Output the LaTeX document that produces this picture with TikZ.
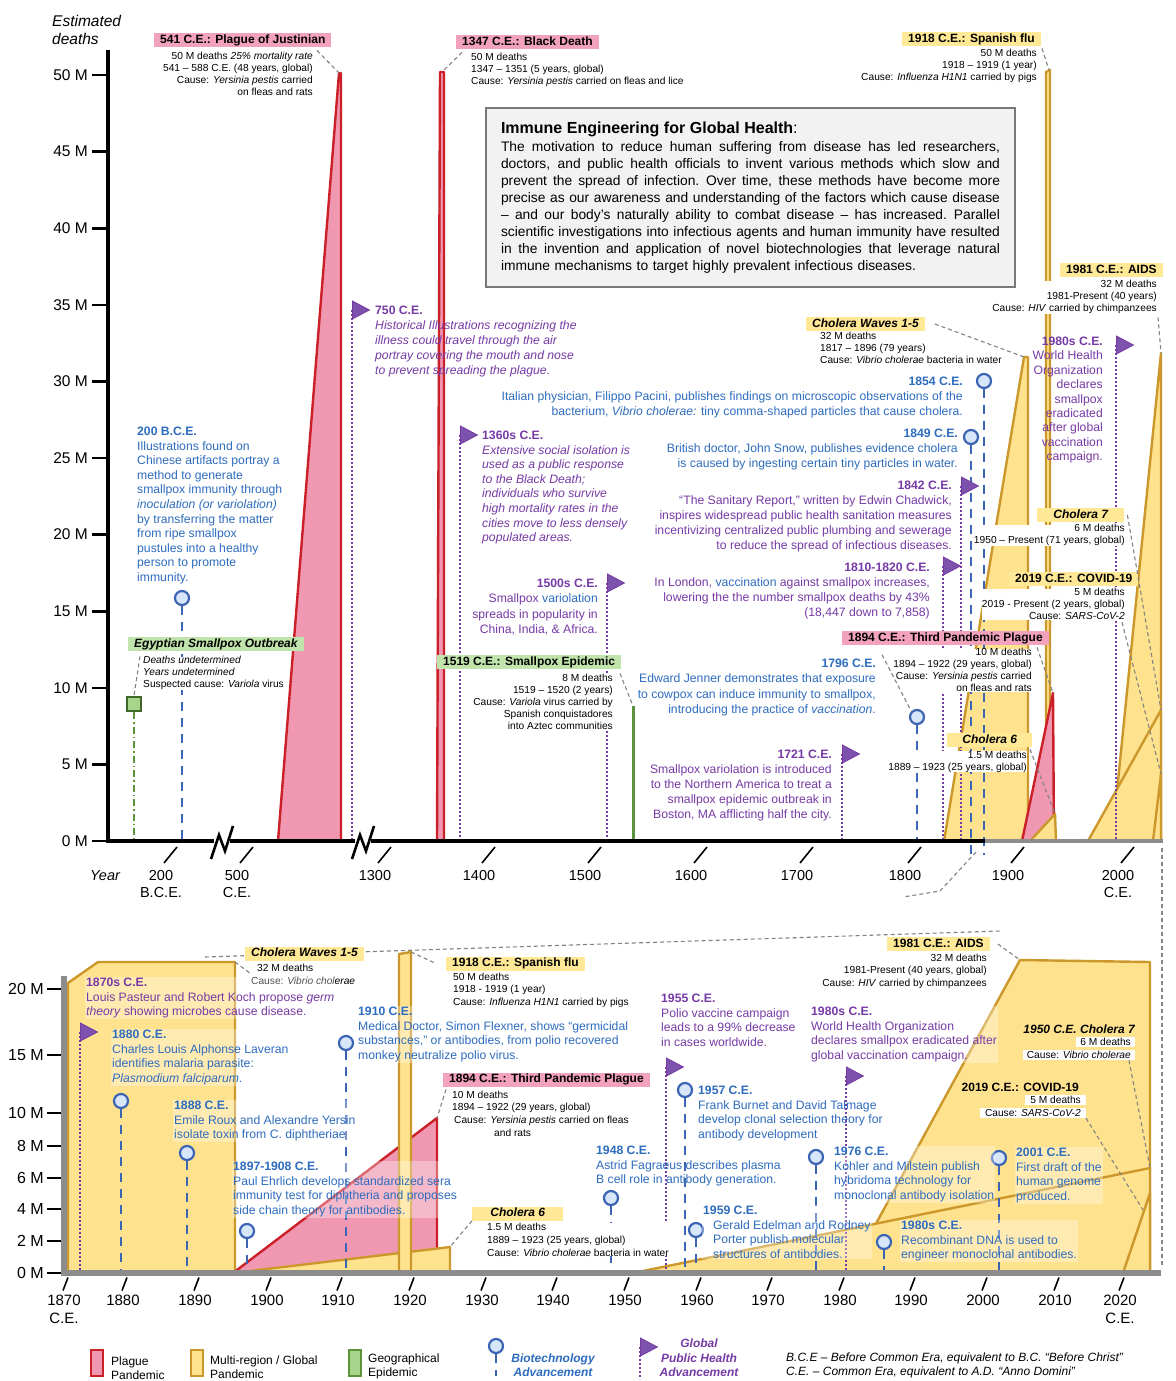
\documentclass[tikz,border=0pt]{standalone}
\usepackage{fontspec}
\setmainfont{Liberation Sans}
\usepackage{xcolor}
\usetikzlibrary{shapes.geometric}

\definecolor{plaguered}{RGB}{204,32,40}
\definecolor{plaguefill}{RGB}{240,152,178}
\definecolor{plaguetagbg}{RGB}{242,162,188}
\definecolor{globalgold}{RGB}{204,152,44}
\definecolor{globalfill}{RGB}{255,226,142}
\definecolor{globaltagbg}{RGB}{255,232,150}
\definecolor{epigreen}{RGB}{92,148,60}
\definecolor{epidark}{RGB}{62,104,42}
\definecolor{epifill}{RGB}{168,212,140}
\definecolor{epitagbg}{RGB}{192,228,172}
\definecolor{bioblue}{RGB}{46,108,190}
\definecolor{pinblue}{RGB}{60,100,180}
\definecolor{pinfill}{RGB}{215,230,248}
\definecolor{pubpurple}{RGB}{118,58,165}
\definecolor{flagpurple}{RGB}{125,82,172}
\definecolor{leadgray}{RGB}{130,130,130}
\definecolor{boxgray}{RGB}{242,242,242}
\definecolor{boxborder}{RGB}{120,120,120}
\definecolor{axisgray}{RGB}{140,140,140}

% one justified line of the summary box
\newcommand{\boxline}[1]{\hbox to 499pt{\spaceskip=0.278em plus 1fil minus 0.1em #1}}

\begin{document}
\begin{tikzpicture}[x=1pt, y=-1pt,
  note/.style={font=\fontsize{10.2}{12}\selectfont, inner sep=0pt, fill=white, align=left},
  tag/.style={font=\bfseries\fontsize{12}{13}\selectfont, inner xsep=6pt, inner ysep=1.3pt, text height=8.8pt, text depth=2.6pt, anchor=west},
  plaguetag/.style={tag, fill=plaguetagbg},
  globaltag/.style={tag, fill=globaltagbg},
  epitag/.style={tag, fill=epitagbg},
  biotxt/.style={font=\fontsize{12.2}{14.6}\selectfont, text=bioblue, inner sep=0pt, align=left},
  pubtxt/.style={font=\fontsize{12.2}{14.6}\selectfont, text=pubpurple, inner sep=0pt, align=left},
  halo/.style={fill=white, fill opacity=0.32, text opacity=1, inner sep=1pt},
  biopin/.style={circle, draw=pinblue, fill=pinfill, line width=2.2pt, minimum size=14pt, inner sep=0pt},
  bioline/.style={draw=pinblue, line width=2.6pt, dash pattern=on 9pt off 7pt},
  pubflag/.style={isosceles triangle, isosceles triangle stretches, minimum width=18pt, minimum height=17pt, inner sep=0pt, fill=flagpurple, draw=pubpurple, line width=0.8pt, anchor=west},
  publine/.style={draw=pubpurple, line width=2.6pt, dash pattern=on 2pt off 2pt},
  epimark/.style={rectangle, draw=epidark, fill=epifill, line width=2.4pt, minimum size=14pt, inner sep=0pt},
  leader/.style={draw=leadgray, line width=1.1pt, dash pattern=on 4pt off 3pt},
  plaguearea/.style={draw=plaguered, line width=2.4pt, fill=plaguefill, line join=round},
  globalarea/.style={draw=globalgold, line width=2.4pt, fill=globalfill, line join=round},
  epibar/.style={draw=epigreen, line width=3pt},
  epiline/.style={draw=epigreen, line width=2.2pt, dash pattern=on 7pt off 3pt on 1.5pt off 3pt},
  ylab/.style={font=\fontsize{15.5}{16}\selectfont, anchor=east, inner sep=0pt},
  yearlab/.style={font=\fontsize{14.5}{17}\selectfont, align=center, anchor=north, inner sep=0pt},
  axisline/.style={line width=4pt},
  ytick/.style={line width=2.6pt},
  xtick/.style={line width=1.6pt},
  introbox/.style={draw=boxborder, fill=boxgray, line width=2pt, minimum width=529pt, minimum height=179pt, inner xsep=14pt, text width=499pt, align=left, font=\fontsize{13.8}{17}\selectfont},
  swatch/.style={rectangle, line width=2.5pt, minimum width=12pt, minimum height=26pt, inner sep=0pt},
  legtxt/.style={font=\fontsize{12}{14}\selectfont, inner sep=0pt, align=left, anchor=west},
]

\useasboundingbox (0,0) rectangle (1175,1381);
\fill[white] (0,0) rectangle (1175,1381);

\coordinate (topaxis) at (0,841);
\coordinate (lowaxis) at (0,1273);
\coordinate (ytaxis) at (108,0);
\coordinate (ybaxis) at (61,0);

%% ===== upper chart: outbreaks
\coordinate (pk541) at (339,73);
\draw[plaguearea] (278,841) -- (pk541) -- (341,73) -- (341,841) -- cycle;
\coordinate (pk1347) at (442,72);
\draw[plaguearea] (437,841) -- (440,72) -- (444,72) -- (444,841) -- cycle;
\coordinate (pk1519) at (633,706);
\draw[epibar] (pk1519) -- (pk1519 |- topaxis);
\coordinate (pkwaves) at (1024,357);
\draw[globalarea] (944,841) -- (pkwaves) -- (1028,357) -- (1028,841) -- cycle;
\coordinate (pkflu) at (1049,70);
\draw[globalarea] (1046,841) -- (1046,72) -- (1050,70) -- (1050,841) -- cycle;
\coordinate (pkaids) at (1161,353);
\draw[globalarea] (1112,841) -- (pkaids) -- (1161,841) -- cycle;
\coordinate (pkchol7) at (1161,710);
\draw[globalarea] (1088,841) -- (pkchol7) -- (1161,841) -- cycle;
\coordinate (pkcovid) at (1161,774);
\draw[globalarea] (1153,841) -- (pkcovid) -- (1161,841) -- cycle;
\coordinate (pk1894) at (1053,693);
\draw[plaguearea] (1022,841) -- (pk1894) -- (1054,841) -- cycle;
\coordinate (pkchol6) at (1055,814);
\draw[globalarea] (1030,841) -- (pkchol6) -- (1056,841) -- cycle;

%% upper chart: markers
\node[epimark] (eso) at (134,704) {};
\draw[epiline] (eso.south) -- (eso.south |- topaxis);

\node[biopin] (p200) at (182,598) {};
\node[biopin] (p1854) at (984,381) {};
\node[biopin] (p1849) at (971,437) {};
\node[biopin] (p1796) at (917,717) {};
\draw[bioline] (p200.south) -- (p200.south |- topaxis);
\draw[bioline] (p1854.south) -- ([yshift=-14pt]p1854.south |- topaxis);
\draw[bioline] (p1849.south) -- ([yshift=-14pt]p1849.south |- topaxis);
\draw[bioline] (p1796.south) -- (p1796.south |- topaxis);

\node[pubflag] (f750) at (352,310) {};
\node[pubflag] (f1360) at (460,435) {};
\node[pubflag] (f1500) at (607,583) {};
\node[pubflag] (f1721) at (842,754) {};
\node[pubflag] (f1810) at (943,566) {};
\node[pubflag] (f1842) at (961,486) {};
\node[pubflag] (f1980t) at (1116,345) {};
\foreach \f in {f750,f1360,f1500,f1721,f1810,f1842,f1980t}
  \draw[publine] (\f.west) -- (\f.west |- topaxis);

%% upper chart: axes
\draw[axisline] (108,50) -- (108,843);
\draw[axisline] (106,841) -- (214,841);
\draw[axisline] (230,841) -- (355,841);
\draw[axisline] (371,841) -- (985,841);
\draw[axisline, draw=axisgray] (985,841) -- (1163,841);
\draw[line width=2.6pt] (211,859) -- (219,835) -- (225,851) -- (233,826);
\draw[line width=2.6pt] (352,859) -- (360,835) -- (366,851) -- (374,826);

\foreach \v in {0,5,...,50} {
  \node[ylab] (yt\v) at (88,841-15.32*\v) {\v\ M};
  \draw[ytick] ([xshift=4pt]yt\v.east) -- (yt\v.east -| ytaxis);
}
\node[anchor=north west, inner sep=0pt, align=left, font=\itshape\fontsize{15.5}{18}\selectfont] (ylabel) at (52,15) {Estimated\\deaths};

\foreach \xx/\txt [count=\i] in {161/{200\\B.C.E.},237/{500\\C.E.},375/1300,479/1400,585/1500,691/1600,797/1700,905/1800,1008/1900,1118/{2000\\C.E.}} {
  \node[yearlab] (yrt\i) at (\xx,870) {\txt};
  \draw[xtick] ([shift={(16,-23)}]yrt\i.north) -- ([shift={(3,-7)}]yrt\i.north);
}
\node[yearlab, font=\itshape\fontsize{14.5}{17}\selectfont] (yearword) at (105,870) {Year};

%% zoom guide lines
\coordinate (zoomA) at (976,852);
\coordinate (zoomB) at (903,897);
\coordinate (zoomC) at (205,957);
\coordinate (zoomD) at (1000,931);
\coordinate (zoomE) at (1162,848);
\coordinate (zoomF) at (1162,1268);
\draw[leader] (zoomA) -- (940,891) -- (zoomB);
\draw[leader] (zoomC) -- (zoomD);
\draw[leader] (zoomE) -- (zoomF);

%% upper chart: outbreak tags and notes
\node[plaguetag] (t541) at (154,40) {541 C.E.: Plague of Justinian};
\node[note, anchor=north east, align=right] (i541) at (313,51.5) {50 M deaths \textit{25\% mortality rate}\\541 – 588 C.E. (48 years, global)\\Cause: \textit{Yersinia pestis} carried\\on fleas and rats};
\node[plaguetag] (t1347) at (456,42) {1347 C.E.: Black Death};
\node[note, anchor=north west] (i1347) at (471,53.4) {50 M deaths\\1347 – 1351 (5 years, global)\\Cause: \textit{Yersinia pestis} carried on fleas and lice};
\node[globaltag] (tflu) at (902,39) {1918 C.E.: Spanish flu};
\node[note, anchor=north east, align=right] (iflu) at (1037,49.4) {50 M deaths\\1918 – 1919 (1 year)\\Cause: \textit{Influenza H1N1} carried by pigs};
\node[globaltag] (taids) at (1060,270) {1981 C.E.: AIDS};
\node[note, anchor=north east, align=right] (iaids) at (1157,280.4) {32 M deaths\\1981-Present (40 years)\\Cause: \textit{HIV} carried by chimpanzees};
\node[globaltag, font=\bfseries\itshape\fontsize{12}{13}\selectfont] (twaves) at (806,324) {Cholera Waves 1-5};
\node[note, anchor=north west] (iwaves) at (820,332.4) {32 M deaths\\1817 – 1896 (79 years)\\Cause: \textit{Vibrio cholerae} bacteria in water};
\node[globaltag, font=\bfseries\itshape\fontsize{12}{13}\selectfont, minimum width=87pt] (tchol7) at (1037,515) {Cholera 7};
\node[note, anchor=north east, align=right] (ichol7) at (1125,524.4) {6 M deaths\\1950 – Present (71 years, global)};
\node[globaltag] (tcovid) at (1009,579) {2019 C.E.: COVID-19};
\node[note, anchor=north east, align=right] (icovid) at (1125,588.4) {5 M deaths\\2019 - Present (2 years, global)\\Cause: \textit{SARS-CoV-2}};
\node[plaguetag] (t1894) at (842,638) {1894 C.E.: Third Pandemic Plague};
\node[note, anchor=north east, align=right] (i1894) at (1032,648.4) {10 M deaths\\1894 – 1922 (29 years, global)\\Cause: \textit{Yersinia pestis} carried\\on fleas and rats};
\node[globaltag, font=\bfseries\itshape\fontsize{12}{13}\selectfont, minimum width=85pt] (tchol6) at (947,740) {Cholera 6};
\node[note, anchor=north east, align=right] (ichol6) at (1027,750.4) {1.5 M deaths\\1889 – 1923 (25 years, global)};
\node[epitag, font=\bfseries\itshape\fontsize{12}{13}\selectfont] (tegypt) at (128,644) {Egyptian Smallpox Outbreak};
\node[note, anchor=north west] (iegypt) at (143,656.4) {\textit{Deaths undetermined}\\\textit{Years undetermined}\\Suspected cause: \textit{Variola} virus};
\node[epitag] (t1519) at (437,662) {1519 C.E.: Smallpox Epidemic};
\node[note, anchor=north east, align=right] (i1519) at (613,674.4) {8 M deaths\\1519 – 1520 (2 years)\\Cause: \textit{Variola} virus carried by\\Spanish conquistadores\\into Aztec communities};

\draw[leader] ([shift={(4,-1)}]i541.north east) -- (pk541);
\draw[leader] ([shift={(-9,-1)}]i1347.north west) -- (pk1347);
\draw[leader] ([shift={(5,-1)}]iflu.north east) -- (pkflu);
\draw[leader] ([shift={(1,3)}]iaids.south east) -- (pkaids);
\draw[leader] ([xshift=10pt]twaves.east) -- (pkwaves);
\draw[leader] ([xshift=3pt]tchol7.east) -- (pkchol7);
\draw[leader] ([shift={(-3,2)}]icovid.south east) -- (pkcovid);
\draw[leader] ([shift={(5,-1)}]i1894.north east) -- (pk1894);
\draw[leader] ([shift={(3,-1)}]ichol6.north east) -- (pkchol6);
\draw[leader] ([shift={(-3,0)}]iegypt.north west) -- (eso.north);
\draw[leader] ([shift={(7,-1)}]i1519.north east) -- (pk1519);

%% summary box
\node[introbox, anchor=north west] (intro) at (485,107) {\noindent{\fontsize{16}{18}\selectfont\textbf{Immune Engineering for Global Health}:}\\[1pt]
\boxline{The motivation to reduce human suffering from disease has led researchers,}
\boxline{doctors, and public health officials to invent various methods which slow and}
\boxline{prevent the spread of infection. Over time, these methods have become more}
\boxline{precise as our awareness and understanding of the factors which cause disease}
\boxline{– and our body’s naturally ability to combat disease – has increased. Parallel}
\boxline{scientific investigations into infectious agents and human immunity have resulted}
\boxline{in the invention and application of novel biotechnologies that leverage natural}
\hbox{immune mechanisms to target highly prevalent infectious diseases.}};

%% upper chart: advancements
\node[biotxt, anchor=north west] (t200) at (137,426.7) {\textbf{200 B.C.E.}\\Illustrations found on\\Chinese artifacts portray a\\method to generate\\smallpox immunity through\\\textit{inoculation (or variolation)}\\by transferring the matter\\from ripe smallpox\\pustules into a healthy\\person to promote\\immunity.};
\node[pubtxt, anchor=north west, font=\itshape\fontsize{12.2}{15}\selectfont] (t750) at (375,305.7) {\textbf{\upshape 750 C.E.}\\Historical Illustrations recognizing the\\illness could travel through the air\\portray covering the mouth and nose\\to prevent spreading the plague.};
\node[pubtxt, anchor=north west, font=\itshape\fontsize{12.2}{14.6}\selectfont] (t1360) at (482,430.7) {\textbf{\upshape 1360s C.E.}\\Extensive social isolation is\\used as a public response\\to the Black Death;\\individuals who survive\\high mortality rates in the\\cities move to less densely\\populated areas.};
\node[pubtxt, anchor=north east, align=right, font=\fontsize{12.2}{15.3}\selectfont] (t1500) at (598,578.7) {\textbf{1500s C.E.}\\Smallpox \textcolor{bioblue}{variolation}\\spreads in popularity in\\China, India, \& Africa.};
\node[biotxt, anchor=north east, align=right, font=\fontsize{12.2}{15}\selectfont] (t1854) at (963,376.7) {\textbf{1854 C.E.}\\Italian physician, Filippo Pacini, publishes findings on microscopic observations of the\\bacterium, \textit{Vibrio cholerae:} tiny comma-shaped particles that cause cholera.};
\node[biotxt, anchor=north east, align=right, font=\fontsize{12.2}{15}\selectfont] (t1849) at (958,428.7) {\textbf{1849 C.E.}\\British doctor, John Snow, publishes evidence cholera\\is caused by ingesting certain tiny particles in water.};
\node[pubtxt, anchor=north east, align=right, font=\fontsize{12.2}{15}\selectfont] (t1842) at (952,480.7) {\textbf{1842 C.E.}\\“The Sanitary Report,” written by Edwin Chadwick,\\inspires widespread public health sanitation measures\\incentivizing centralized public plumbing and sewerage\\to reduce the spread of infectious diseases.};
\node[pubtxt, anchor=north east, align=right, font=\fontsize{12.2}{15}\selectfont] (t1810) at (930,562.7) {\textbf{1810-1820 C.E.}\\In London, \textcolor{bioblue}{vaccination} against smallpox increases,\\lowering the the number smallpox deaths by 43\%\\(18,447 down to 7,858)};
\node[biotxt, anchor=north east, align=right, font=\fontsize{12.2}{15.3}\selectfont] (t1796) at (876,658.7) {\textbf{1796 C.E.}\\Edward Jenner demonstrates that exposure\\to cowpox can induce immunity to smallpox,\\introducing the practice of \textit{vaccination}.};
\node[pubtxt, anchor=north east, align=right, font=\fontsize{12.2}{15}\selectfont] (t1721) at (832,749.7) {\textbf{1721 C.E.}\\Smallpox variolation is introduced\\to the Northern America to treat a\\smallpox epidemic outbreak in\\Boston, MA afflicting half the city.};
\node[pubtxt, anchor=north east, align=right, font=\fontsize{12.2}{14.4}\selectfont] (t1980t) at (1103,336.7) {\textbf{1980s C.E.}\\World Health\\Organization\\declares\\smallpox\\eradicated\\after global\\vaccination\\campaign.};
\draw[leader] ([shift={(6,-4)}]t1796.north east) -- (p1796.north west);

%% ===== lower chart: outbreaks
\coordinate (pkwavesb) at (235,962);
\draw[globalarea] (68,1273) -- (68,983) -- (98,962) -- (pkwavesb) -- (235,1273) -- cycle;
\coordinate (pk1894b) at (437,1118);
\draw[plaguearea] (233,1273) -- (pk1894b) -- (437,1273) -- cycle;
\coordinate (pkchol6b) at (450,1247);
\draw[globalarea] (233,1273) -- (pkchol6b) -- (450,1273) -- cycle;
\coordinate (pkflub) at (411,952);
\draw[globalarea] (399,1273) -- (399,954) -- (pkflub) -- (411,1273) -- cycle;
\coordinate (pkaidsb) at (1020,960);
\draw[globalarea] (849,1273) -- (pkaidsb) -- (1150,962) -- (1150,1273) -- cycle;
\coordinate (pkchol7b) at (1150,1168);
\draw[globalarea] (633,1273) -- (pkchol7b) -- (1150,1273) -- cycle;
\coordinate (pkcovb) at (1150,1193);
\draw[globalarea] (1123,1273) -- (pkcovb) -- (1150,1273) -- cycle;
\coordinate (endcovb) at (1143,1210);

%% lower chart: markers
\node[biopin] (p1880) at (121,1101) {};
\node[biopin] (p1888) at (187,1153) {};
\node[biopin] (p1897) at (247,1231) {};
\node[biopin] (p1910) at (346,1043) {};
\node[biopin] (p1948) at (611,1198) {};
\node[biopin] (p1957) at (685,1090) {};
\node[biopin] (p1959) at (696,1230) {};
\node[biopin] (p1976) at (816,1157) {};
\node[biopin] (p1980b) at (884,1242) {};
\node[biopin] (p2001) at (999,1158) {};
\foreach \p in {p1880,p1888,p1897,p1910,p1948,p1957,p1959,p1976,p1980b,p2001}
  \draw[bioline] (\p.south) -- (\p.south |- lowaxis);

\node[pubflag] (f1870) at (80,1032) {};
\node[pubflag] (f1955) at (666,1067) {};
\node[pubflag] (f1980b) at (846,1076) {};
\foreach \f in {f1870,f1955,f1980b}
  \draw[publine] (\f.west) -- (\f.west |- lowaxis);

%% lower chart: axes
\draw[line width=6pt, axisgray, line join=miter] (64,976) -- (64,1273) -- (1161,1273);
\foreach \v/\yy in {20/989,15/1055,10/1113,8/1146,6/1178,4/1209,2/1241,0/1273} {
  \node[ylab, font=\fontsize{16}{17}\selectfont] (yb\v) at (44,\yy) {\v\ M};
  \draw[ytick] ([xshift=3pt]yb\v.east) -- (yb\v.east -| ybaxis);
}
\foreach \xx/\txt [count=\i] in {64/{1870\\C.E.},123/1880,195/1890,267/1900,338/1910,410/1920,482/1930,553/1940,625/1950,697/1960,768/1970,840/1980,911/1990,983/2000,1055/2010,1120/{2020\\C.E.}} {
  \node[yearlab, font=\fontsize{15}{18}\selectfont] (yrb\i) at (\xx,1294.5) {\txt};
  \draw[xtick] ([shift={(4,-17)}]yrb\i.north) -- ([shift={(-1,-4)}]yrb\i.north);
}

%% lower chart: outbreak tags and notes
\node[globaltag, font=\bfseries\itshape\fontsize{12}{13}\selectfont] (twavesb) at (245,953.5) {Cholera Waves 1-5};
\node[note, anchor=north west, font=\fontsize{10.2}{13}\selectfont] (iwavesb) at (251,963.4) {\hspace*{6pt}32 M deaths\\Cause: \textit{Vibrio cholerae}};
\node[globaltag] (tflub) at (446,963.5) {1918 C.E.: Spanish flu};
\node[note, anchor=north west, font=\fontsize{10.2}{12.5}\selectfont] (iflub) at (453,972.4) {50 M deaths\\1918 - 1919 (1 year)\\Cause: \textit{Influenza H1N1} carried by pigs};
\node[plaguetag] (t1894b) at (443,1079.5) {1894 C.E.: Third Pandemic Plague};
\node[note, anchor=north west, font=\fontsize{10.2}{12.7}\selectfont] (i1894b) at (452,1090.4) {10 M deaths\\1894 – 1922 (29 years, global)\\\hspace*{2pt}Cause: \textit{Yersinia pestis} carried on fleas\\\hspace*{42pt}and rats};
\node[globaltag, font=\bfseries\itshape\fontsize{12}{13}\selectfont, minimum width=91pt] (tchol6b) at (472,1213.5) {Cholera 6};
\node[note, anchor=north west, font=\fontsize{10.2}{13}\selectfont] (ichol6b) at (487,1222.4) {1.5 M deaths\\1889 – 1923 (25 years, global)\\Cause: \textit{Vibrio cholerae} bacteria in water};
\node[globaltag] (taidsb) at (887,944) {1981 C.E.: AIDS};
\node[note, anchor=north east, align=right, font=\fontsize{10.2}{12.5}\selectfont] (iaidsb) at (987,953.4) {32 M deaths\\1981-Present (40 years, global)\\Cause: \textit{HIV} carried by chimpanzees};
\node[inner sep=0pt, anchor=north east, font=\bfseries\itshape\fontsize{12}{13}\selectfont] (tchol7b) at (1135,1024.7) {1950 C.E. Cholera 7};
\node[note, anchor=north east, inner xsep=4pt, inner ysep=1.5pt] (ichol7b) at (1135,1036.5) {6 M deaths};
\node[note, anchor=north east, inner xsep=4pt, inner ysep=1.5pt] (ichol7c) at (1135,1049.5) {Cause: \textit{Vibrio cholerae}};
\node[inner sep=0pt, anchor=north east, font=\bfseries\fontsize{12}{13}\selectfont] (tcovb) at (1079,1082.7) {2019 C.E.: COVID-19};
\node[note, anchor=north east, inner xsep=5pt, inner ysep=1.5pt] (icovb) at (1086,1094.5) {5 M deaths};
\node[note, anchor=north east, inner xsep=5pt, inner ysep=1.5pt] (icovc) at (1086,1107.5) {Cause: \textit{SARS-CoV-2}};

\draw[leader] (pkwavesb) -- (iwavesb.west);
\draw[leader] (pkflub) -- ([xshift=-10pt]tflub.west);
\draw[leader] ([shift={(-6,-1)}]i1894b.north west) -- (pk1894b);
\draw[leader] (tchol6b.south west) -- (pkchol6b);
\draw[leader] ([xshift=8pt]taidsb.east) -- (pkaidsb);
\draw[leader] ([shift={(-6,0)}]ichol7c.south east) -- (pkchol7b);
\draw[leader] (icovc.south east) -- (endcovb);

%% lower chart: advancements
\node[pubtxt, halo, anchor=north west] (t1870) at (85,976.7) {\textbf{1870s C.E.}\\Louis Pasteur and Robert Koch propose \textit{germ}\\\textit{theory} showing microbes cause disease.};
\node[biotxt, halo, anchor=north west] (t1880) at (111,1028.7) {\textbf{1880 C.E.}\\Charles Louis Alphonse Laveran\\identifies malaria parasite:\\\textit{Plasmodium falciparum}.};
\node[biotxt, halo, anchor=north west] (t1888) at (173,1099.7) {\textbf{1888 C.E.}\\Emile Roux and Alexandre Yersin\\isolate toxin from C. diphtheriae};
\node[biotxt, halo, anchor=north west] (t1897) at (232,1160.7) {\textbf{1897-1908 C.E.}\\Paul Ehrlich develops standardized sera\\immunity test for diphtheria and proposes\\side chain theory for antibodies.};
\node[biotxt, halo, anchor=north west] (t1910) at (357,1005.7) {\textbf{1910 C.E.}\\Medical Doctor, Simon Flexner, shows “germicidal\\substances,” or antibodies, from polio recovered\\monkey neutralize polio virus.};
\node[pubtxt, anchor=north west] (t1955) at (661,993.7) {\textbf{1955 C.E.}\\Polio vaccine campaign\\leads to a 99\% decrease\\in cases worldwide.};
\node[biotxt, anchor=north west] (t1957) at (698,1085.7) {\textbf{1957 C.E.}\\Frank Burnet and David Talmage\\develop clonal selection theory for\\antibody development};
\node[biotxt, anchor=north west] (t1948) at (596,1145.7) {\textbf{1948 C.E.}\\Astrid Fagraeus describes plasma\\B cell role in antibody generation.};
\node[biotxt, halo, anchor=north west] (t1959) at (702,1204.7) {\textbf{1959 C.E.}\\\hspace*{10pt}Gerald Edelman and Rodney\\\hspace*{10pt}Porter publish molecular\\\hspace*{10pt}structures of antibodies.};
\node[pubtxt, halo, anchor=north west] (t1980p) at (810,1005.7) {\textbf{1980s C.E.}\\World Health Organization\\declares smallpox eradicated after\\global vaccination campaign.};
\node[biotxt, halo, anchor=north west] (t1976) at (833,1145.7) {\textbf{1976 C.E.}\\Kohler and Milstein publish\\hybridoma technology for\\monoclonal antibody isolation};
\node[biotxt, halo, anchor=north west] (t2001) at (1015,1146.7) {\textbf{2001 C.E.}\\First draft of the\\human genome\\produced.};
\node[biotxt, halo, anchor=north west] (t1980b) at (900,1219.7) {\textbf{1980s C.E.}\\Recombinant DNA is used to\\engineer monoclonal antibodies.};

%% ===== legend
\node[swatch, draw=plaguered, fill=plaguefill] (kplague) at (97,1363) {};
\node[legtxt] (lplague) at (111,1368) {Plague\\Pandemic};
\node[swatch, draw=globalgold, fill=globalfill] (kglobal) at (197,1363) {};
\node[legtxt] (lglobal) at (210,1367) {Multi-region / Global\\Pandemic};
\node[swatch, draw=epigreen, fill=epifill] (kepi) at (355,1363) {};
\node[legtxt] (lepi) at (368,1366) {Geographical\\Epidemic};
\node[biopin] (kpin) at (496,1346) {};
\draw[bioline] (kpin.south) -- ([yshift=-22pt]kpin.south);
\node[legtxt, anchor=center, align=center, text=bioblue, font=\bfseries\itshape\fontsize{12}{14}\selectfont] (lbio) at (553,1365) {Biotechnology\\Advancement};
\node[pubflag] (kflag) at (640,1347) {};
\draw[publine] (kflag.west) -- ([yshift=-32pt]kflag.west);
\node[legtxt, anchor=center, align=center, text=pubpurple, font=\bfseries\itshape\fontsize{12}{14.5}\selectfont] (lpub) at (699,1358) {Global\\Public Health\\Advancement};
\node[legtxt, anchor=north west, font=\itshape\fontsize{12}{14}\selectfont] (lera) at (786,1352.7) {B.C.E – Before Common Era, equivalent to B.C. “Before Christ”\\C.E. – Common Era, equivalent to A.D. “Anno Domini”};

\end{tikzpicture}
\end{document}
